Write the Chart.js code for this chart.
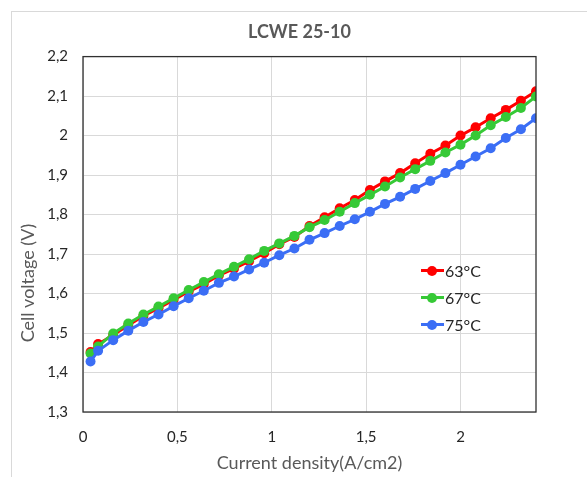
<!DOCTYPE html>
<html>
<head>
<meta charset="utf-8">
<script src="https://cdn.jsdelivr.net/npm/chart.js@4.4.1/dist/chart.umd.min.js"></script>
<style>
  html, body { margin: 0; padding: 0; background: #fff; overflow: hidden; }
  #wrap { position: relative; width: 587px; height: 477px; overflow: hidden; }
  #frame { position: absolute; left: 11px; top: 11px; width: 600px; height: 500px; border: 1px solid #d9d9d9; box-sizing: border-box; }
  #legend { position: absolute; left: 421px; top: 257px; font-family: Lato, "Open Sans", sans-serif; font-size: 16px; color: #262626; }
  #legend .item { display: flex; align-items: center; height: 27px; }
  #legend .mark { position: relative; width: 23px; height: 10px; margin-right: 1px; }
  #legend .mark .ln { position: absolute; left: 0; right: 0; top: 3.5px; height: 3px; }
  #legend .mark .dot { position: absolute; left: 6px; top: 0; width: 10px; height: 10px; border-radius: 50%; }
</style>
</head>
<body>
<div id="wrap">
  <div id="frame"></div>
  <canvas id="chart" width="587" height="477"></canvas>
  <div id="legend"></div>
</div>
<script>
// current density (A/cm2)
const current = [0.04, 0.08, 0.16, 0.24, 0.32, 0.40, 0.48, 0.56, 0.64, 0.72, 0.80,
  0.88, 0.96, 1.04, 1.12, 1.20, 1.28, 1.36, 1.44, 1.52, 1.60, 1.68, 1.76, 1.84,
  1.92, 2.00, 2.08, 2.16, 2.24, 2.32, 2.40];

// cell voltage (V) per temperature
const v63 = [1.452, 1.472, 1.495, 1.520, 1.543, 1.563, 1.584, 1.605, 1.624, 1.646, 1.663,
  1.682, 1.702, 1.725, 1.743, 1.771, 1.793, 1.816, 1.837, 1.862, 1.884, 1.905, 1.930, 1.954,
  1.975, 2.000, 2.021, 2.044, 2.065, 2.088, 2.112];
const v67 = [1.448, 1.466, 1.499, 1.524, 1.547, 1.567, 1.588, 1.609, 1.629, 1.649, 1.668,
  1.687, 1.708, 1.727, 1.746, 1.768, 1.786, 1.807, 1.829, 1.850, 1.871, 1.894, 1.915, 1.936,
  1.957, 1.977, 2.000, 2.026, 2.047, 2.070, 2.099];
const v75 = [1.428, 1.455, 1.482, 1.506, 1.528, 1.547, 1.568, 1.588, 1.607, 1.627, 1.643,
  1.661, 1.678, 1.697, 1.714, 1.736, 1.753, 1.771, 1.788, 1.807, 1.827, 1.845, 1.865, 1.885,
  1.905, 1.926, 1.947, 1.968, 1.994, 2.016, 2.044];

const seriesLabels = ['63°C', '67°C', '75°C'];
const xTicks = [0, 0.5, 1, 1.5, 2];
const yTicks = [1.3, 1.4, 1.5, 1.6, 1.7, 1.8, 1.9, 2.0, 2.1, 2.2];

const colors = ['#ff0000', '#36c936', '#3b6ef5'];
const FONT = 'Lato, "Open Sans", sans-serif';
const comma = v => String(Math.round(v * 10) / 10).replace('.', ',');

function makeSet(label, values, color, order) {
    return {
        label: label,
        data: values.map((v, i) => ({ x: current[i], y: v })),
        borderColor: color,
        backgroundColor: color,
        borderWidth: 3,
        pointRadius: 5,
        pointHoverRadius: 5,
        pointBorderWidth: 0,
        tension: 0,
        order: order
    };
}

// box around the plot area + y axis title (sits below the axis middle, as in the original)
const plotExtras = {
    id: 'plotExtras',
    afterDatasetsDraw(chart) {
        const a = chart.chartArea, ctx = chart.ctx;
        ctx.save();
        ctx.strokeStyle = '#303030';
        ctx.lineWidth = 1.3;
        ctx.strokeRect(a.left, a.top, a.right - a.left, a.bottom - a.top);
        ctx.restore();
    },
    afterDraw(chart) {
        const ctx = chart.ctx;
        ctx.save();
        ctx.translate(28, 283);
        ctx.rotate(-Math.PI / 2);
        ctx.fillStyle = '#595959';
        ctx.font = '18px ' + FONT;
        ctx.textAlign = 'center';
        ctx.textBaseline = 'middle';
        ctx.fillText('Cell voltage (V)', 0, 0);
        ctx.restore();
    }
};

const chart = new Chart(document.getElementById('chart'), {
    type: 'line',
    data: {
        datasets: [
            makeSet(seriesLabels[0], v63, colors[0], 3),
            makeSet(seriesLabels[1], v67, colors[1], 2),
            makeSet(seriesLabels[2], v75, colors[2], 1)
        ]
    },
    plugins: [plotExtras],
    options: {
        responsive: false,
        animation: false,
        layout: { padding: { left: 12, right: 0, top: 0, bottom: 0 } },
        plugins: {
            legend: { display: false },
            tooltip: { enabled: false },
            title: {
                display: true,
                text: 'LCWE 25-10',
                color: '#595959',
                font: { family: FONT, size: 18, weight: 'bold' },
                padding: { top: 21, bottom: 14 }
            }
        },
        scales: {
            x: {
                type: 'linear',
                min: 0,
                max: 2.4,
                afterBuildTicks: s => { s.ticks = xTicks.map(v => ({ value: v })); },
                afterFit: s => { s.height = 65; },
                grid: { color: '#d9d9d9', drawTicks: false },
                border: { display: false },
                ticks: {
                    color: '#262626',
                    padding: 16,
                    maxRotation: 0,
                    font: { family: FONT, size: 15 },
                    callback: v => comma(v)
                },
                title: {
                    display: true,
                    text: 'Current density(A/cm2)',
                    color: '#595959',
                    font: { family: FONT, size: 18 },
                    padding: { top: 0, bottom: 3 }
                }
            },
            y: {
                min: 1.3,
                max: 2.2,
                afterBuildTicks: s => { s.ticks = yTicks.map(v => ({ value: v })); },
                afterFit: s => { s.width = 71; },
                grid: { color: '#d9d9d9', drawTicks: false },
                border: { display: false },
                ticks: {
                    color: '#262626',
                    padding: 15,
                    font: { family: FONT, size: 15 },
                    callback: v => comma(v)
                }
            },
            // empty right axis, only reserves the space right of the plot
            yRight: {
                position: 'right',
                min: 1.3,
                max: 2.2,
                afterFit: s => { s.width = 51; },
                grid: { display: false },
                border: { display: false },
                ticks: { display: false }
            }
        }
    }
});

// legend inside the plot, built from the datasets
const legendEl = document.getElementById('legend');
chart.data.datasets.forEach(ds => {
    const item = document.createElement('div');
    item.className = 'item';
    item.innerHTML = '<span class="mark"><span class="ln" style="background:' + ds.borderColor +
        '"></span><span class="dot" style="background:' + ds.borderColor + '"></span></span>' +
        '<span>' + ds.label + '</span>';
    legendEl.appendChild(item);
});
</script>
</body>
</html>
